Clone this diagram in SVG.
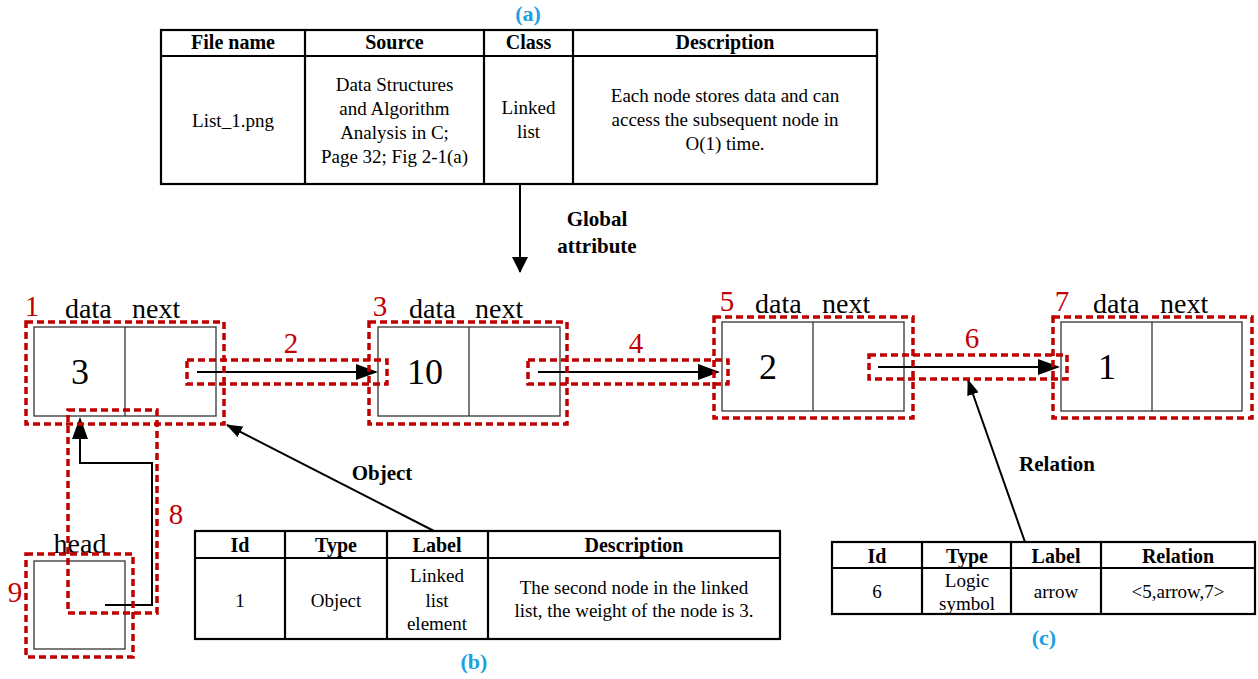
<svg xmlns="http://www.w3.org/2000/svg" width="1258" height="679" viewBox="0 0 1258 679" font-family="'Liberation Serif', 'DejaVu Serif', serif">
<defs>
<style>
text{font-family:'Liberation Serif','DejaVu Serif',serif;fill:#000}
.th{font-size:20px;font-weight:bold;text-anchor:middle}
.td{font-size:19px;text-anchor:middle}
.cap{font-size:22px;font-weight:bold;text-anchor:middle;fill:#1ba1e2}
.lbl{font-size:21px;font-weight:bold;text-anchor:middle}
.fld{font-size:28px}
.val{font-size:36px;text-anchor:middle}
.red{font-size:29px;fill:#c00000;text-anchor:middle}
.tbl{fill:#fff;stroke:#000;stroke-width:2.2}
.tl{stroke:#000;stroke-width:2.2}
.nd{fill:#fff;stroke:#333;stroke-width:1.3}
.ndl{stroke:#333;stroke-width:1.3}
.con{fill:none;stroke:#000;stroke-width:2}
.ann{fill:none;stroke:#c00000;stroke-width:3.5;stroke-dasharray:7 4}
</style>
<marker id="arrL" viewBox="0 0 22 16" refX="20" refY="8" markerWidth="22" markerHeight="16" markerUnits="userSpaceOnUse" orient="auto"><path d="M0,0 L22,8 L0,16 z" fill="#000"/></marker>
<marker id="arrM" viewBox="0 0 16 16" refX="15" refY="8" markerWidth="16" markerHeight="16" markerUnits="userSpaceOnUse" orient="auto"><path d="M0,0 L16,8 L0,16 z" fill="#000"/></marker>
<marker id="arrS" viewBox="0 0 16 12" refX="15" refY="6" markerWidth="16" markerHeight="12" markerUnits="userSpaceOnUse" orient="auto"><path d="M0,0 L16,6 L0,12 z" fill="#000"/></marker>
</defs>
<rect width="1258" height="679" fill="#fff"/>

<!-- (a) global attribute table -->
<g id="table-a">
<text class="cap" x="528" y="21">(a)</text>
<rect class="tbl" x="161" y="30" width="716" height="154"/>
<line class="tl" x1="161" y1="56" x2="877" y2="56"/>
<line class="tl" x1="305" y1="30" x2="305" y2="184"/>
<line class="tl" x1="484" y1="30" x2="484" y2="184"/>
<line class="tl" x1="573" y1="30" x2="573" y2="184"/>
<text class="th" x="233" y="49">File name</text>
<text class="th" x="394.5" y="49">Source</text>
<text class="th" x="528.5" y="49">Class</text>
<text class="th" x="725" y="49">Description</text>
<text class="td" x="233" y="127">List_1.png</text>
<text class="td" x="394.5" y="91">Data Structures</text>
<text class="td" x="394.5" y="115">and Algorithm</text>
<text class="td" x="394.5" y="139">Analysis in C;</text>
<text class="td" x="394.5" y="163">Page 32; Fig 2-1(a)</text>
<text class="td" x="528.5" y="114">Linked</text>
<text class="td" x="528.5" y="138">list</text>
<text class="td" x="725" y="102">Each node stores data and can</text>
<text class="td" x="725" y="126">access the subsequent node in</text>
<text class="td" x="725" y="150">O(1) time.</text>
</g>

<!-- linked list nodes -->
<g id="node-1">
<text class="fld" x="65" y="318">data</text>
<text class="fld" x="132" y="318">next</text>
<rect class="nd" x="34" y="327" width="182" height="89"/>
<line class="ndl" x1="125" y1="327" x2="125" y2="416"/>
<text class="val" x="80" y="384">3</text>
</g>
<g id="node-3">
<text class="fld" x="409" y="318">data</text>
<text class="fld" x="475" y="318">next</text>
<rect class="nd" x="378" y="327" width="182" height="89"/>
<line class="ndl" x1="469" y1="327" x2="469" y2="416"/>
<text class="val" x="425" y="384">10</text>
</g>
<g id="node-5">
<text class="fld" x="755" y="313">data</text>
<text class="fld" x="822" y="313">next</text>
<rect class="nd" x="722" y="322" width="182" height="89"/>
<line class="ndl" x1="813" y1="322" x2="813" y2="411"/>
<text class="val" x="768" y="379">2</text>
</g>
<g id="node-7">
<text class="fld" x="1093" y="313">data</text>
<text class="fld" x="1160" y="313">next</text>
<rect class="nd" x="1061" y="322" width="181" height="89"/>
<line class="ndl" x1="1152" y1="322" x2="1152" y2="411"/>
<text class="val" x="1107" y="379">1</text>
</g>
<g id="head">
<text class="fld" x="80" y="553" text-anchor="middle">head</text>
<rect class="nd" x="34" y="561" width="91" height="88"/>
</g>

<!-- (b) object table -->
<g id="table-b">
<rect class="tbl" x="195" y="531" width="585" height="108"/>
<line class="tl" x1="195" y1="558" x2="780" y2="558"/>
<line class="tl" x1="285" y1="531" x2="285" y2="639"/>
<line class="tl" x1="387" y1="531" x2="387" y2="639"/>
<line class="tl" x1="488" y1="531" x2="488" y2="639"/>
<text class="th" x="240" y="552">Id</text>
<text class="th" x="336" y="552">Type</text>
<text class="th" x="437" y="552">Label</text>
<text class="th" x="634" y="552">Description</text>
<text class="td" x="240" y="607">1</text>
<text class="td" x="336" y="607">Object</text>
<text class="td" x="437" y="582">Linked</text>
<text class="td" x="437" y="607">list</text>
<text class="td" x="437" y="630">element</text>
<text class="td" x="634" y="594">The second node in the linked</text>
<text class="td" x="634" y="617">list, the weight of the node is 3.</text>
<text class="cap" x="474" y="669">(b)</text>
</g>

<!-- (c) relation table -->
<g id="table-c">
<rect class="tbl" x="832" y="542" width="423" height="72"/>
<line class="tl" x1="832" y1="568" x2="1255" y2="568"/>
<line class="tl" x1="922" y1="542" x2="922" y2="614"/>
<line class="tl" x1="1011" y1="542" x2="1011" y2="614"/>
<line class="tl" x1="1101" y1="542" x2="1101" y2="614"/>
<text class="th" x="877" y="563">Id</text>
<text class="th" x="967" y="563">Type</text>
<text class="th" x="1056" y="563">Label</text>
<text class="th" x="1178" y="563">Relation</text>
<text class="td" x="877" y="598">6</text>
<text class="td" x="967" y="587">Logic</text>
<text class="td" x="967" y="610">symbol</text>
<text class="td" x="1056" y="598">arrow</text>
<text class="td" x="1178" y="598">&lt;5,arrow,7&gt;</text>
<text class="cap" x="1044" y="645">(c)</text>
</g>

<!-- connectors -->
<g id="connectors">
<line class="con" x1="520" y1="184" x2="520" y2="272" marker-end="url(#arrM)"/>
<line class="con" x1="197" y1="372" x2="376" y2="372" marker-end="url(#arrL)"/>
<line class="con" x1="538" y1="372" x2="718" y2="372" marker-end="url(#arrL)"/>
<line class="con" x1="878" y1="367" x2="1058" y2="367" marker-end="url(#arrL)"/>
<path class="con" d="M105,605 H152 V463 H80 V419" marker-end="url(#arrL)"/>
<line class="con" x1="434" y1="531" x2="227" y2="425" marker-end="url(#arrS)"/>
<line class="con" x1="1025" y1="542" x2="968" y2="380" marker-end="url(#arrS)"/>
<text class="lbl" x="597" y="226">Global</text>
<text class="lbl" x="597" y="253">attribute</text>
<text class="lbl" x="382" y="480">Object</text>
<text class="lbl" x="1057" y="471">Relation</text>
</g>

<!-- annotation boxes -->
<g id="annotations">
<rect class="ann" x="26" y="322" width="198" height="102"/>
<rect class="ann" x="369" y="322" width="198" height="102"/>
<rect class="ann" x="714" y="317" width="199" height="101"/>
<rect class="ann" x="1053" y="317" width="199" height="101"/>
<rect class="ann" x="187" y="360" width="200" height="24"/>
<rect class="ann" x="528" y="360" width="200" height="24"/>
<rect class="ann" x="869" y="355" width="198" height="24"/>
<rect class="ann" x="68" y="410" width="89" height="203"/>
<rect class="ann" x="26" y="554" width="107" height="103"/>
<text class="red" x="32" y="316">1</text>
<text class="red" x="291" y="353">2</text>
<text class="red" x="380" y="316">3</text>
<text class="red" x="636" y="353">4</text>
<text class="red" x="727" y="311">5</text>
<text class="red" x="972" y="348">6</text>
<text class="red" x="1062" y="311">7</text>
<text class="red" x="176" y="524">8</text>
<text class="red" x="15" y="602">9</text>
</g>
</svg>
